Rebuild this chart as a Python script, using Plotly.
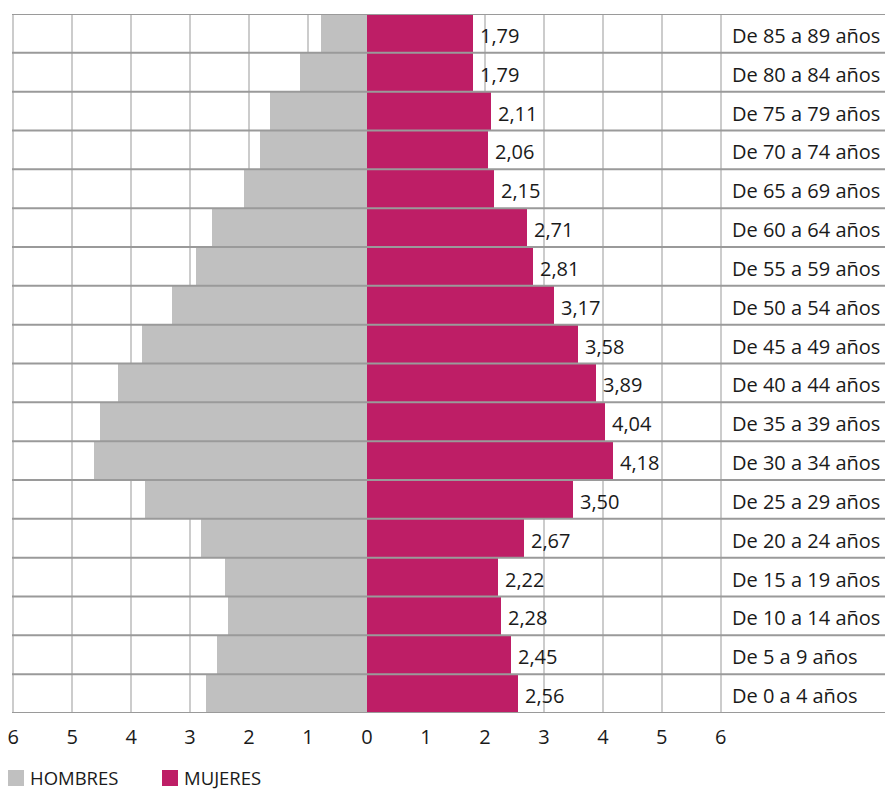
import plotly.graph_objects as go

categorias = ["De 0 a 4 años", "De 5 a 9 años", "De 10 a 14 años", "De 15 a 19 años",
              "De 20 a 24 años", "De 25 a 29 años", "De 30 a 34 años", "De 35 a 39 años",
              "De 40 a 44 años", "De 45 a 49 años", "De 50 a 54 años", "De 55 a 59 años",
              "De 60 a 64 años", "De 65 a 69 años", "De 70 a 74 años", "De 75 a 79 años",
              "De 80 a 84 años", "De 85 a 89 años"]
hombres = [2.73, 2.54, 2.36, 2.41, 2.81, 3.76, 4.63, 4.53, 4.22, 3.81, 3.31, 2.90,
           2.63, 2.08, 1.81, 1.64, 1.14, 0.78]
mujeres = [2.56, 2.45, 2.28, 2.22, 2.67, 3.50, 4.18, 4.04, 3.89, 3.58, 3.17, 2.81,
           2.71, 2.15, 2.06, 2.11, 1.79, 1.79]
series_names = ["HOMBRES", "MUJERES"]
tick_vals = [-6, -5, -4, -3, -2, -1, 0, 1, 2, 3, 4, 5, 6]
tick_text = ["6", "5", "4", "3", "2", "1", "0", "1", "2", "3", "4", "5", "6"]

FONT = "Open Sans"
GRAY = "#c0c0c0"
MAG = "#be1e66"
TXT = "#1a1a1a"

# the page body adds an 8px offset; figure sized so the plot lands where the reference has it
OFF = 8
W, H = 893 - OFF, 790 - OFF
ML, MR, MT = 12 - OFF, 0, 14 - OFF
PW, PH = W - ML - MR, 699
MB = H - MT - PH

ypos = list(range(len(categorias)))

fig = go.Figure()
fig.add_trace(go.Bar(
    y=ypos, x=[-v for v in hombres], orientation="h", name=series_names[0],
    marker=dict(color=GRAY, line=dict(width=0)), hoverinfo="skip", showlegend=False))
fig.add_trace(go.Bar(
    y=ypos, x=mujeres, orientation="h", name=series_names[1],
    marker=dict(color=MAG, line=dict(width=0)), hoverinfo="skip", showlegend=False))

annotations = []
for i, (cat, v) in enumerate(zip(categorias, mujeres)):
    annotations.append(dict(x=v, y=i, xref="x", yref="y", text=f"{v:.2f}".replace(".", ","),
                            showarrow=False, xanchor="left", xshift=5, yshift=-2,
                            font=dict(family=FONT, size=20, color=TXT)))
    annotations.append(dict(x=6.15, y=i, xref="x", yref="y", text=cat,
                            showarrow=False, xanchor="left", yshift=-2,
                            font=dict(family=FONT, size=20, color=TXT)))

shapes = []
for k in range(len(categorias) + 1):
    shapes.append(dict(type="line", xref="paper", yref="y", x0=0, x1=1,
                       y0=k - 0.5, y1=k - 0.5, layer="above",
                       line=dict(color="#9a9a9a", width=2)))

# manual legend, positions given in page pixels and converted to paper coordinates
def px_x(p):
    return (p - OFF - ML) / PW

def px_y(p):
    return (H - MB - (p - OFF)) / PH

legend_items = [(series_names[0], GRAY, 8), (series_names[1], MAG, 162)]
for name, col, x0 in legend_items:
    shapes.append(dict(type="rect", xref="paper", yref="paper",
                       x0=px_x(x0), x1=px_x(x0 + 16), y0=px_y(786), y1=px_y(770),
                       fillcolor=col, line=dict(width=0)))
    annotations.append(dict(x=px_x(x0 + 21), y=px_y(777.5), xref="paper", yref="paper",
                            text=name, showarrow=False, xanchor="left", yanchor="middle",
                            borderpad=0,
                            font=dict(family=FONT, size=18.5, color=TXT)))

fig.update_layout(
    width=W, height=H,
    margin=dict(l=ML, r=MR, t=MT, b=MB),
    paper_bgcolor="white", plot_bgcolor="white",
    barmode="overlay", bargap=0, showlegend=False,
    font=dict(family=FONT, size=20, color=TXT),
    xaxis=dict(range=[-6.02, 8.92], tickvals=tick_vals, ticktext=tick_text,
               showgrid=True, gridcolor="#cccccc", gridwidth=1.5,
               zeroline=True, zerolinecolor="#9a9a9a", zerolinewidth=1,
               showline=False, ticks="", fixedrange=True, automargin=False,
               ticklabelstandoff=10, ticklabeloverflow="allow",
               tickfont=dict(family=FONT, size=20, color=TXT)),
    yaxis=dict(range=[-0.5, 17.5], showticklabels=False, showgrid=False,
               zeroline=False, showline=False, ticks="", fixedrange=True,
               automargin=False),
    annotations=annotations, shapes=shapes,
)

fig.write_html("out.html", config={"displayModeBar": False})
